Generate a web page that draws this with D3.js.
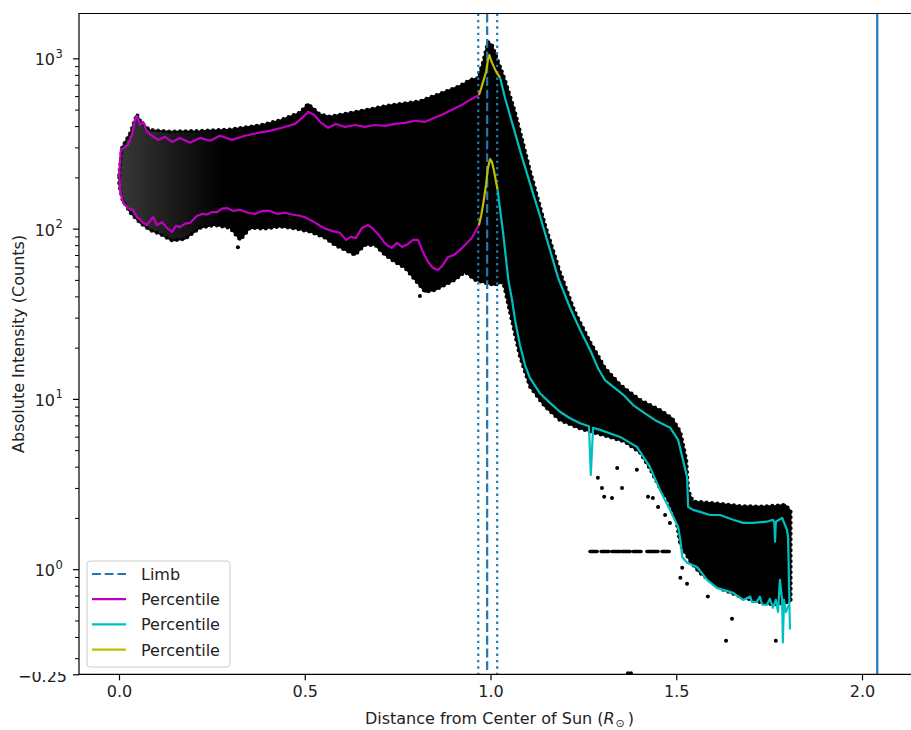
<!DOCTYPE html>
<html>
<head>
<meta charset="utf-8">
<script src="https://cdn.jsdelivr.net/npm/d3@7"></script>
<style>
body { margin: 0; background: #fff; }
text { font-family: "DejaVu Sans", sans-serif; fill: #222; }
</style>
</head>
<body>
<svg id="chart" width="911" height="730"></svg>
<script>
// ---- data (distance in solar radii, intensity in counts) ----

// envelope of the black scatter cloud
var cloudUpper = [[0.0,206],[0.008,300],[0.030,365],[0.048,470],[0.060,420],[0.083,380],[0.137,372],[0.218,375],
    [0.299,382],[0.380,405],[0.433,432],[0.487,480],[0.509,540],[0.540,470],[0.568,455],[0.649,490],[0.729,530],
    [0.810,560],[0.864,620],[0.918,690],[0.945,747],[0.966,767],[0.980,953],[0.993,1248],[1.004,1199],[1.017,1005],
    [1.039,747],[1.066,485],[1.106,221],[1.147,105],[1.187,55.7],[1.227,32.4],[1.268,21.6],[1.308,15.2],
    [1.349,12.1],[1.402,9.87],[1.456,8.61],[1.489,7.7],[1.511,6.4],[1.527,4.4],[1.532,2.9],[1.545,2.5],
    [1.618,2.42],[1.672,2.35],[1.725,2.33],[1.766,2.36],[1.793,2.39],[1.808,2.2]];
var cloudLower = [[0.0,181],[0.008,150],[0.030,124],[0.057,108],[0.083,98],[0.110,93],[0.143,85],[0.178,87],
    [0.218,101],[0.258,105],[0.299,101],[0.326,85.9],[0.353,101],[0.393,100],[0.433,103],[0.474,100],[0.514,96],
    [0.555,88.3],[0.581,80.2],[0.608,75.0],[0.635,70.1],[0.662,80.2],[0.689,80.2],[0.716,70.1],[0.743,63.7],
    [0.770,58.8],[0.797,50.0],[0.824,42.5],[0.851,43.6],[0.878,46.7],[0.904,50.0],[0.931,55.7],[0.958,50.0],
    [0.985,48.0],[1.012,46.7],[1.034,48.6],[1.039,43.6],[1.058,28.5],[1.079,17.8],[1.106,11.8],[1.147,9.0],
    [1.187,7.5],[1.241,6.7],[1.295,6.2],[1.362,5.6],[1.402,4.85],[1.429,3.9],[1.456,3.0],[1.478,2.55],
    [1.500,1.95],[1.511,1.39],[1.539,1.10],[1.564,0.95],[1.618,0.77],[1.672,0.69],[1.725,0.64],[1.760,0.62],
    [1.787,0.63],[1.808,0.65]];

// isolated points outside the dense cloud
var strayPoints = [[0.320,77.7],[0.810,40.2],[1.289,3.44],[1.300,3.0],[1.306,2.66],[1.327,2.62],
    [1.341,3.93],[1.354,3.0],[1.394,3.83],[1.424,2.66],[1.437,2.62],[1.451,2.32],[1.470,2.08],[1.483,1.87],
    [1.516,1.02],[1.511,0.89],[1.529,0.82],[1.585,0.69],[1.650,0.511],[1.634,0.38],[1.768,0.38],[1.370,0.245],[1.378,0.245]];

// row of quantised points near 1.27 counts
var rowLevel = 1.27;
var rowSegments = [[1.268,1.287],[1.298,1.319],[1.327,1.349],[1.354,1.376],[1.384,1.405],[1.421,1.451],[1.462,1.481]];

// limb positions
var limbCenter = 0.991;
var limbBounds = [0.967, 1.018];
var outerEdge = 2.041;

// percentile curves
var magentaUpper = [[0.000,206],[0.005,290],[0.013,298],[0.024,310],[0.035,355],[0.043,435],[0.048,459],[0.057,406],
    [0.065,424],[0.075,371],[0.089,351],[0.105,332],[0.124,346],[0.143,323],[0.164,341],[0.191,319],[0.218,341],
    [0.245,328],[0.272,351],[0.304,332],[0.339,351],[0.374,365],[0.406,375],[0.439,391],[0.474,412],[0.493,447],
    [0.509,485],[0.525,466],[0.541,424],[0.563,391],[0.584,412],[0.608,396],[0.635,406],[0.662,396],[0.689,406],
    [0.716,401],[0.743,412],[0.770,418],[0.797,430],[0.824,424],[0.843,442],[0.869,466],[0.896,499],[0.923,533],
    [0.945,570],[0.969,610]];
var magentaLower = [[0.000,212],[0.003,169],[0.011,142],[0.024,132],[0.038,129],[0.048,117],[0.057,113],[0.065,108],
    [0.075,105],[0.092,117],[0.102,105],[0.116,109],[0.129,101],[0.143,95.7],[0.153,104],[0.164,102],[0.178,107],
    [0.191,108],[0.210,119],[0.226,122],[0.237,121],[0.250,125],[0.264,125],[0.277,131],[0.291,132],[0.307,127],
    [0.326,129],[0.347,124],[0.366,122],[0.385,127],[0.406,127],[0.428,122],[0.447,124],[0.466,121],[0.487,119],
    [0.503,116],[0.520,111],[0.541,104],[0.557,99.6],[0.573,97.0],[0.595,94.4],[0.611,85.9],[0.624,89.4],
    [0.638,88.3],[0.654,101],[0.670,105],[0.684,99.6],[0.697,93.1],[0.713,83.5],[0.724,79.1],[0.735,77.1],
    [0.748,82.5],[0.762,78.1],[0.778,81.3],[0.791,85.9],[0.805,85.9],[0.818,73.0],[0.832,63.7],[0.845,58.8],
    [0.859,57.2],[0.872,61.2],[0.886,68.2],[0.902,70.1],[0.918,75.0],[0.934,81.3],[0.950,88.3],[0.969,105]];
var yellowUpper = [[0.969,610],[0.975,668],[0.980,727],[0.988,832],[0.993,979],[0.997,1047],[1.001,979],
    [1.009,891],[1.017,821],[1.026,767]];
var yellowLower = [[0.969,105],[0.975,120],[0.980,138],[0.988,181],[0.993,227],[0.999,256],[1.004,246],
    [1.009,221],[1.015,188],[1.019,169]];
var cyanUpper = [[1.026,767],[1.039,585],[1.052,466],[1.079,290],[1.106,185],[1.133,119],[1.160,75],[1.182,51.4],
    [1.214,34.3],[1.241,25.5],[1.268,19.4],[1.289,15.2],[1.308,12.9],[1.330,11.8],[1.357,10.6],[1.384,9.2],
    [1.410,8.4],[1.443,7.5],[1.470,7.0],[1.483,6.8],[1.505,5.75],[1.518,4.39],[1.529,3.48],[1.532,2.32],
    [1.545,2.23],[1.564,2.17],[1.591,2.08],[1.618,2.08],[1.653,1.95],[1.680,1.87],[1.707,1.87],[1.744,1.90],
    [1.760,1.95],[1.764,1.87],[1.766,1.45],[1.768,1.90],[1.785,2.0],[1.798,1.70],[1.801,1.55],[1.806,0.442]];
var cyanLower = [[1.019,169],[1.034,94],[1.048,50],[1.058,38.1],[1.066,29.1],[1.079,20.8],[1.093,15.8],
    [1.106,13.3],[1.133,10.8],[1.160,9.48],[1.187,8.4],[1.214,7.7],[1.241,7.2],[1.265,6.9],[1.270,3.58],
    [1.276,6.76],[1.295,6.58],[1.349,5.98],[1.394,5.23],[1.429,3.99],[1.456,2.92],[1.483,2.23],[1.505,1.77],
    [1.511,1.49],[1.516,1.18],[1.529,1.09],[1.556,1.03],[1.583,0.865],[1.609,0.776],[1.653,0.726],[1.680,0.66],
    [1.699,0.69],[1.704,0.64],[1.717,0.643],[1.725,0.69],[1.731,0.62],[1.744,0.617],[1.752,0.67],[1.760,0.593],
    [1.768,0.66],[1.774,0.561],[1.779,0.865],[1.785,0.66],[1.787,0.371],[1.790,0.66],[1.795,0.56],[1.803,0.617]];

var xTicks = [0, 0.5, 1.0, 1.5, 2.0];
var yTicks = [1, 10, 100, 1000];
var yBottomLabel = "\u22120.25";
var legendLabels = ["Limb", "Percentile", "Percentile", "Percentile"];

// ---- layout ----
var plotLeft = 79, plotRight = 920, plotTop = 13.5, plotBottom = 674.3;
var magenta = '#bf00bf', cyan = '#00bfbf', olive = '#bfbf00', blue = '#1f77b4';

var x = d3.scaleLinear().domain([-0.1077, 2.1561]).range([plotLeft, plotRight]);
var y = d3.scaleLog().domain([0.2413, 1834]).range([plotBottom, plotTop]);

var svg = d3.select('#chart');
var defs = svg.append('defs');

defs.append('clipPath').attr('id', 'plotClip')
    .append('rect')
    .attr('x', plotLeft).attr('y', plotTop)
    .attr('width', plotRight - plotLeft).attr('height', plotBottom - plotTop);

// lower part of bottom label only is visible in the reference
defs.append('clipPath').attr('id', 'labelClip')
    .append('rect')
    .attr('x', 0).attr('y', 672).attr('width', 80).attr('height', 30);

// sparse points near the centre look lighter
var grad = defs.append('linearGradient').attr('id', 'cloudGrad')
    .attr('gradientUnits', 'userSpaceOnUse')
    .attr('x1', x(0)).attr('x2', x(0.28)).attr('y1', 0).attr('y2', 0);
grad.append('stop').attr('offset', 0).attr('stop-color', '#000').attr('stop-opacity', 0.78);
grad.append('stop').attr('offset', 1).attr('stop-color', '#000').attr('stop-opacity', 1);

var plot = svg.append('g').attr('clip-path', 'url(#plotClip)');

var curve = d3.line()
    .x(function (d) { return x(d[0]); })
    .y(function (d) { return y(d[1]); });

// scatter cloud as filled envelope, dotted outline mimics the loose edge points
var cloudPoly = cloudUpper.concat(cloudLower.slice().reverse());
plot.append('path')
    .datum(cloudPoly)
    .attr('d', function (d) { return curve(d) + 'Z'; })
    .attr('fill', 'url(#cloudGrad)')
    .attr('stroke', 'url(#cloudGrad)')
    .attr('stroke-width', 1.5)
    .attr('stroke-linejoin', 'round');
plot.append('path')
    .datum(cloudPoly)
    .attr('d', function (d) { return curve(d) + 'Z'; })
    .attr('fill', 'none')
    .attr('stroke', 'url(#cloudGrad)')
    .attr('stroke-width', 4)
    .attr('stroke-linecap', 'round')
    .attr('stroke-dasharray', '0,5.5');

plot.append('g').selectAll('line')
    .data(rowSegments)
    .enter().append('line')
    .attr('x1', function (d) { return x(d[0]); })
    .attr('x2', function (d) { return x(d[1]); })
    .attr('y1', y(rowLevel))
    .attr('y2', y(rowLevel))
    .attr('stroke', '#000')
    .attr('stroke-width', 3.6)
    .attr('stroke-linecap', 'round');

plot.append('g').selectAll('circle')
    .data(strayPoints)
    .enter().append('circle')
    .attr('cx', function (d) { return x(d[0]); })
    .attr('cy', function (d) { return y(d[1]); })
    .attr('r', 2)
    .attr('fill', '#000');

// limb markers
function vline(xv, dash) {
    plot.append('line')
        .attr('x1', x(xv)).attr('x2', x(xv))
        .attr('y1', plotTop).attr('y2', plotBottom)
        .attr('stroke', blue)
        .attr('stroke-width', 2.2)
        .attr('stroke-dasharray', dash);
}
vline(limbCenter, '8.9,3.8');
limbBounds.forEach(function (b) { vline(b, '2.4,4'); });
vline(outerEdge, null);

// percentile curves
function drawCurve(data, color) {
    plot.append('path')
        .datum(data)
        .attr('d', curve)
        .attr('fill', 'none')
        .attr('stroke', color)
        .attr('stroke-width', 2.2)
        .attr('stroke-linejoin', 'round');
}
drawCurve(magentaUpper, magenta);
drawCurve(magentaLower, magenta);
drawCurve(cyanUpper, cyan);
drawCurve(cyanLower, cyan);
drawCurve(yellowUpper, olive);
drawCurve(yellowLower, olive);

// ---- axes ----
var xAxis = svg.append('g')
    .attr('transform', 'translate(0,' + plotBottom + ')')
    .call(d3.axisBottom(x).tickValues(xTicks).tickFormat(d3.format('.1f')).tickSize(6).tickPadding(5));
xAxis.select('.domain').remove();
xAxis.selectAll('line').attr('stroke', '#000').attr('stroke-width', 1.2);
xAxis.selectAll('text').attr('font-size', 16).attr('fill', '#222')
    .attr('font-family', '"DejaVu Sans", sans-serif');

// minor log ticks 2..9 per decade
var minorTicks = [];
[-1, 0, 1, 2, 3].forEach(function (e) {
    for (var m = 2; m <= 9; m++) {
        var v = m * Math.pow(10, e);
        if (v > y.domain()[0] && v < y.domain()[1]) minorTicks.push(v);
    }
});

var yMinor = svg.append('g')
    .attr('transform', 'translate(' + plotLeft + ',0)')
    .call(d3.axisLeft(y).tickValues(minorTicks).tickFormat('').tickSize(4));
yMinor.select('.domain').remove();
yMinor.selectAll('line').attr('stroke', '#000').attr('stroke-width', 1);

var yMajor = svg.append('g')
    .attr('transform', 'translate(' + plotLeft + ',0)')
    .call(d3.axisLeft(y).tickValues(yTicks.concat([y.domain()[0]])).tickFormat('').tickSize(6));
yMajor.select('.domain').remove();
yMajor.selectAll('line').attr('stroke', '#000').attr('stroke-width', 1.2);

var yLabels = svg.append('g').selectAll('text')
    .data(yTicks)
    .enter().append('text')
    .attr('x', 55)
    .attr('y', function (d) { return y(d) + 7; })
    .attr('text-anchor', 'end')
    .attr('font-size', 16)
    .text('10');
yLabels.each(function (d) {
    d3.select(this.parentNode).append('text')
        .attr('x', 55.5)
        .attr('y', y(d) - 0.5)
        .attr('font-size', 11.5)
        .text(Math.round(Math.log10(d)));
});

svg.append('text')
    .attr('clip-path', 'url(#labelClip)')
    .attr('x', 67)
    .attr('y', plotBottom + 7.5)
    .attr('text-anchor', 'end')
    .attr('font-size', 16)
    .text(yBottomLabel);

// spines
svg.append('path')
    .attr('d', 'M' + plotLeft + ',' + plotTop + 'H' + plotRight + 'V' + plotBottom + 'H' + plotLeft + 'Z')
    .attr('fill', 'none')
    .attr('stroke', '#000')
    .attr('stroke-width', 1.2);

// axis titles
var xTitle = svg.append('text')
    .attr('x', (plotLeft + plotRight) / 2)
    .attr('y', 724)
    .attr('text-anchor', 'middle')
    .attr('font-size', 16);
xTitle.append('tspan').text('Distance from Center of Sun (');
xTitle.append('tspan').attr('font-style', 'italic').text('R');
xTitle.append('tspan').attr('font-size', 11).attr('dy', 3).attr('dx', 1).text('\u2299');
xTitle.append('tspan').attr('dy', -3).attr('dx', 3).text(')');

svg.append('text')
    .attr('transform', 'translate(24,' + ((plotTop + plotBottom) / 2) + ') rotate(-90)')
    .attr('text-anchor', 'middle')
    .attr('font-size', 16)
    .text('Absolute Intensity (Counts)');

// ---- legend ----
var legend = svg.append('g').attr('transform', 'translate(87,561)');
legend.append('rect')
    .attr('width', 143).attr('height', 106)
    .attr('rx', 3)
    .attr('fill', '#fff').attr('fill-opacity', 0.8)
    .attr('stroke', '#cccccc').attr('stroke-width', 1);

var legendStyles = [
    { color: blue, dash: '8.9,3.8' },
    { color: magenta, dash: null },
    { color: cyan, dash: null },
    { color: olive, dash: null }
];
var legendRows = legend.selectAll('g.row')
    .data(legendLabels)
    .enter().append('g')
    .attr('class', 'row')
    .attr('transform', function (d, i) { return 'translate(0,' + (13 + i * 25.2) + ')'; });
legendRows.append('line')
    .attr('x1', 5).attr('x2', 39)
    .attr('stroke', function (d, i) { return legendStyles[i].color; })
    .attr('stroke-width', 2.2)
    .attr('stroke-dasharray', function (d, i) { return legendStyles[i].dash; });
legendRows.append('text')
    .attr('x', 54)
    .attr('y', 6)
    .attr('font-size', 16)
    .text(function (d) { return d; });
</script>
</body>
</html>
